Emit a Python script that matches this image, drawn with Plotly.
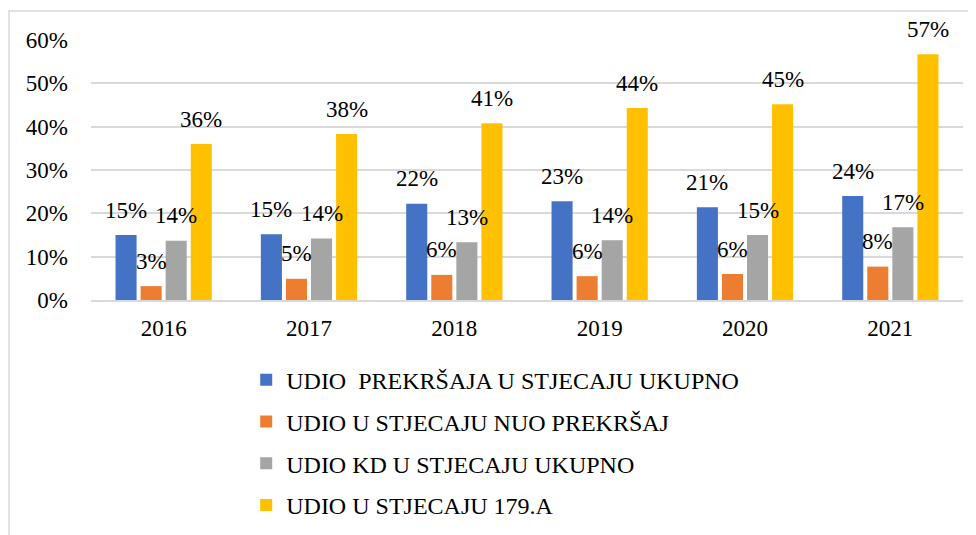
# Grouped bar chart: shares per year (2016-2021)
import plotly.graph_objects as go

years = ["2016", "2017", "2018", "2019", "2020", "2021"]

series_names = [
    "UDIO\u00a0 PREKRŠAJA U STJECAJU UKUPNO",
    "UDIO U STJECAJU NUO PREKRŠAJ",
    "UDIO KD U STJECAJU UKUPNO",
    "UDIO U STJECAJU 179.A",
]

udio_prekrsaja = [0.150, 0.152, 0.222, 0.228, 0.214, 0.240]
udio_nuo = [0.032, 0.049, 0.058, 0.055, 0.060, 0.077]
udio_kd = [0.137, 0.142, 0.133, 0.138, 0.150, 0.168]
udio_179a = [0.360, 0.383, 0.408, 0.443, 0.452, 0.567]

series_values = [udio_prekrsaja, udio_nuo, udio_kd, udio_179a]
colors = ["#4472C4", "#ED7D31", "#A5A5A5", "#FFC000"]

FONT = "Liberation Serif"
bargap = 0.31

fig = go.Figure()
for name, vals, col in zip(series_names, series_values, colors):
    fig.add_trace(go.Bar(
        x=years, y=vals, name=name, marker_color=col,
        marker_line_width=0, legendgroup=name,
    ))

# value labels sit a little above the bars, like Excel's
slot = (1 - bargap) / len(series_values)
annotations = []
for j, vals in enumerate(series_values):
    for i, v in enumerate(vals):
        annotations.append(dict(
            x=i - (1 - bargap) / 2 + slot * (j + 0.5), y=v,
            xref="x", yref="y", text=f"{round(v * 100)}%",
            showarrow=False, yanchor="middle", yshift=25,
            font=dict(family=FONT, size=23, color="#000000"),
        ))

# page body has an 8px margin, so the figure is 8px smaller
fig.update_layout(
    width=968, height=527,
    margin=dict(l=83, r=13, t=32, b=235, autoexpand=False),
    paper_bgcolor="white", plot_bgcolor="white",
    barmode="group", bargap=bargap, bargroupgap=0.16,
    font=dict(family=FONT, size=23, color="#000000"),
    annotations=annotations,
    showlegend=True,
    legend=dict(
        orientation="v", x=0.178, xanchor="left", y=-0.222, yanchor="top",
        font=dict(family=FONT, size=24, color="#000000"),
        tracegroupgap=7.5, bgcolor="rgba(0,0,0,0)",
    ),
    shapes=[dict(
        type="rect", xref="paper", yref="paper",
        x0=-0.094, x1=1.2, y0=-1.5, y1=1.112,
        line=dict(color="#d9d9d9", width=1.5), fillcolor="rgba(0,0,0,0)",
        layer="below",
    )],
)

fig.update_xaxes(
    type="category", showgrid=False, showline=True, automargin=False,
    linecolor="#d9d9d9", linewidth=1.5, ticks="", ticklabelstandoff=7,
)
fig.update_yaxes(
    range=[0, 0.6], dtick=0.1, tickformat=".0%", automargin=False,
    showgrid=True, gridcolor="#d9d9d9", gridwidth=1.5,
    zeroline=False, showline=False, ticks="", ticklabelstandoff=22,
)

fig.write_html("out.html")
